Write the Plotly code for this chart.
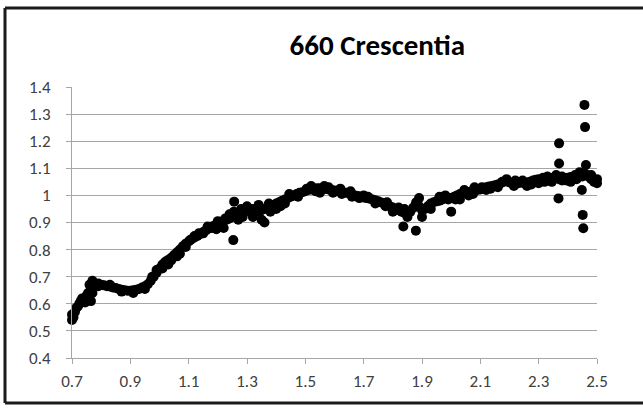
import plotly.graph_objects as go

# reflectance spectrum, main run
wavelength = [
    0.70, 0.71, 0.72, 0.73, 0.74, 0.75, 0.76, 0.77, 0.78, 0.79,
    0.80, 0.81, 0.82, 0.83, 0.84, 0.85, 0.86, 0.87, 0.88, 0.89,
    0.90, 0.91, 0.92, 0.93, 0.94, 0.95, 0.96, 0.97, 0.98, 0.99,
    1.00, 1.01, 1.02, 1.03, 1.04, 1.05, 1.06, 1.07, 1.08, 1.09,
    1.10, 1.11, 1.12, 1.13, 1.14, 1.15, 1.16, 1.17, 1.18, 1.19,
    1.20, 1.21, 1.22, 1.23, 1.24, 1.25, 1.26, 1.27, 1.28, 1.29,
    1.30, 1.31, 1.32, 1.33, 1.34, 1.35, 1.36, 1.37, 1.38, 1.39,
    1.40, 1.41, 1.42, 1.43, 1.44, 1.45, 1.46, 1.47, 1.48, 1.49,
    1.50, 1.51, 1.52, 1.53, 1.54, 1.55, 1.56, 1.57, 1.58, 1.59,
    1.60, 1.61, 1.62, 1.63, 1.64, 1.65, 1.66, 1.67, 1.68, 1.69,
    1.70, 1.71, 1.72, 1.73, 1.74, 1.75, 1.76, 1.77, 1.78, 1.79,
    1.80, 1.81, 1.82, 1.83, 1.84, 1.85, 1.86, 1.87, 1.88, 1.89,
    1.90, 1.91, 1.92, 1.93, 1.94, 1.95, 1.96, 1.97, 1.98, 1.99,
    2.00, 2.01, 2.02, 2.03, 2.04, 2.05, 2.06, 2.07, 2.08, 2.09,
    2.10, 2.11, 2.12, 2.13, 2.14, 2.15, 2.16, 2.17, 2.18, 2.19,
    2.20, 2.21, 2.22, 2.23, 2.24, 2.25, 2.26, 2.27, 2.28, 2.29,
    2.30, 2.31, 2.32, 2.33, 2.34, 2.35, 2.36, 2.37, 2.38, 2.39,
    2.40, 2.41, 2.42, 2.43, 2.44, 2.45, 2.46, 2.47, 2.48, 2.49,
    2.50,
]
reflectance = [
    0.540, 0.570, 0.590, 0.610, 0.620, 0.630, 0.670, 0.640, 0.670, 0.665,
    0.670, 0.668, 0.665, 0.664, 0.660, 0.658, 0.655, 0.652, 0.650, 0.648,
    0.648, 0.650, 0.652, 0.655, 0.660, 0.665, 0.672, 0.685, 0.700, 0.715,
    0.730, 0.745, 0.755, 0.762, 0.770, 0.780, 0.790, 0.800, 0.812, 0.822,
    0.830, 0.838, 0.845, 0.850, 0.858, 0.865, 0.872, 0.878, 0.885, 0.890,
    0.895, 0.900, 0.905, 0.910, 0.915, 0.920, 0.925, 0.930, 0.935, 0.940,
    0.945, 0.948, 0.950, 0.945, 0.940, 0.945, 0.950, 0.955, 0.960, 0.965,
    0.970, 0.975, 0.980, 0.985, 0.990, 0.995, 1.000, 1.005, 1.010, 1.012,
    1.015, 1.020, 1.022, 1.025, 1.026, 1.026, 1.025, 1.024, 1.022, 1.020,
    1.018, 1.016, 1.014, 1.012, 1.010, 1.007, 1.004, 1.000, 0.998, 0.995,
    0.992, 0.990, 0.988, 0.985, 0.982, 0.978, 0.974, 0.970, 0.965, 0.960,
    0.955, 0.950, 0.945, 0.940, 0.935, 0.930, 0.940, 0.955, 0.975, 0.960,
    0.945, 0.950, 0.960, 0.970, 0.975, 0.978, 0.980, 0.985, 0.990, 0.985,
    0.990, 0.995, 1.000, 1.005, 1.008, 1.010, 1.012, 1.015, 1.018, 1.020,
    1.022, 1.025, 1.030, 1.033, 1.035, 1.037, 1.040, 1.045, 1.050, 1.052,
    1.048, 1.045, 1.043, 1.045, 1.048, 1.045, 1.048, 1.050, 1.055, 1.058,
    1.060, 1.055, 1.050, 1.055, 1.060, 1.065, 1.068, 1.060, 1.055, 1.060,
    1.065, 1.068, 1.065, 1.070, 1.075, 1.070, 1.080, 1.070, 1.060, 1.050,
    1.060,
]

# second pass / scatter around the main run
wl_scatter = [
    0.700, 0.705, 0.715, 0.725, 0.735, 0.745, 0.755, 0.765, 0.770, 0.790,
    0.830, 0.870, 0.910, 0.950, 0.975, 0.990, 1.010, 1.040, 1.060, 1.090,
    1.120, 1.150, 1.180, 1.200, 1.220, 1.240, 1.270, 1.280, 1.300, 1.320,
    1.340, 1.350, 1.360, 1.380, 1.400, 1.430, 1.520, 1.550, 1.580, 1.620,
    1.660, 1.700, 1.740, 1.780, 1.800, 1.820, 1.840, 1.850, 1.890, 1.900,
    1.930, 1.960, 1.980, 2.000, 2.030, 2.060, 2.080, 2.120, 2.160, 2.190,
    2.220, 2.260, 2.300, 2.330, 2.360, 2.380, 2.410, 2.430, 2.440, 2.480,
    2.500,
    1.030, 1.070, 1.105, 1.135, 1.165, 1.195, 1.225, 1.255, 1.285, 1.315,
    1.375, 1.415, 1.445, 1.475, 1.505, 1.535, 1.565, 1.595, 1.625, 1.655,
    1.685, 1.715, 1.745, 1.775, 2.015, 2.045, 2.075, 2.105, 2.135, 2.175,
    2.215, 2.245, 2.275, 2.315, 2.345, 2.395, 2.425,
]
refl_scatter = [
    0.560, 0.550, 0.585, 0.600, 0.620, 0.605, 0.640, 0.610, 0.685, 0.675,
    0.670, 0.645, 0.640, 0.655, 0.700, 0.725, 0.730, 0.760, 0.775, 0.810,
    0.850, 0.860, 0.880, 0.905, 0.880, 0.930, 0.910, 0.950, 0.960, 0.920,
    0.965, 0.910, 0.900, 0.940, 0.950, 0.970, 1.035, 1.010, 1.030, 1.025,
    0.995, 1.000, 0.970, 0.975, 0.940, 0.955, 0.950, 0.920, 0.990, 0.920,
    0.950, 0.995, 1.000, 0.940, 0.985, 1.000, 1.030, 1.020, 1.030, 1.060,
    1.055, 1.035, 1.045, 1.070, 1.075, 1.070, 1.050, 1.060, 1.085, 1.075,
    1.045,
    0.745, 0.785, 0.835, 0.860, 0.885, 0.875, 0.915, 0.940, 0.920, 0.935,
    0.970, 0.960, 1.005, 0.995, 1.025, 1.015, 1.035, 1.010, 1.005, 1.015,
    0.990, 0.995, 0.975, 0.960, 0.985, 1.020, 1.005, 1.030, 1.025, 1.050,
    1.035, 1.055, 1.040, 1.065, 1.050, 1.055, 1.075,
]

# isolated noisy points
wl_outlier = [1.256, 1.253, 1.836, 1.879, 2.370, 2.370, 2.368,
              2.457, 2.459, 2.451, 2.453, 2.448, 2.462]
refl_outlier = [0.977, 0.835, 0.885, 0.870, 1.192, 1.118, 0.989,
                1.334, 1.252, 0.928, 0.879, 1.020, 1.112]

x_ticks = [0.7, 0.9, 1.1, 1.3, 1.5, 1.7, 1.9, 2.1, 2.3, 2.5]
y_ticks = [0.4, 0.5, 0.6, 0.7, 0.8, 0.9, 1.0, 1.1, 1.2, 1.3, 1.4]
y_labels = ["0.4", "0.5", "0.6", "0.7", "0.8", "0.9", "1", "1.1", "1.2", "1.3", "1.4"]

FONT = "Carlito, Calibri, Lato, sans-serif"
GRID = "#a6a6a6"

fig = go.Figure()
for xs, ys in [(wavelength, reflectance), (wl_scatter, refl_scatter), (wl_outlier, refl_outlier)]:
    fig.add_trace(go.Scatter(
        x=xs, y=ys, mode="markers",
        marker=dict(color="black", size=10, line=dict(width=0)),
        showlegend=False, cliponaxis=False,
    ))

# Excel-style chart border (right edge is cut off in the source image)
W, H = 643, 409
L, R, T, B = 72, 46, 87, 51
pw, ph = W - L - R, H - T - B


def px(x):
    return (x - L) / pw


def py(y):
    return 1 - (y - T) / ph


border = dict(color="#1a1a1a", width=3)
fig.add_shape(type="line", xref="paper", yref="paper",
              x0=px(5), x1=px(643), y0=py(8), y1=py(8), line=border)
fig.add_shape(type="line", xref="paper", yref="paper",
              x0=px(5), x1=px(643), y0=py(403), y1=py(403), line=border)
fig.add_shape(type="line", xref="paper", yref="paper",
              x0=px(5), x1=px(5), y0=py(8), y1=py(403), line=border)
# keep the right edge open like the cropped source
fig.add_shape(type="rect", xref="paper", yref="paper", layer="above",
              x0=px(634), x1=px(645), y0=py(11), y1=py(400),
              fillcolor="white", line=dict(width=0))

fig.update_layout(
    width=W, height=H,
    margin=dict(l=L, r=R, t=T, b=B),
    paper_bgcolor="white", plot_bgcolor="white",
    title=dict(text="<b>660 Crescentia</b>", x=px(380), xanchor="center",
               y=1 - 45 / H, yanchor="middle",
               font=dict(family=FONT, size=29, color="black")),
    xaxis=dict(range=[0.7, 2.5], tickvals=x_ticks, ticktext=[str(v) for v in x_ticks],
               showgrid=False, zeroline=False, showline=True, linecolor=GRID, linewidth=1,
               ticks="outside", ticklen=5, tickcolor=GRID, ticklabelstandoff=3,
               tickfont=dict(family=FONT, size=17, color="#404040")),
    yaxis=dict(range=[0.4, 1.4], tickvals=y_ticks, ticktext=y_labels,
               showgrid=True, gridcolor=GRID, gridwidth=1, zeroline=False,
               showline=True, linecolor=GRID, linewidth=1,
               ticks="outside", ticklen=5, tickcolor=GRID, ticklabelstandoff=12,
               tickfont=dict(family=FONT, size=17, color="#404040")),
)

fig.write_html("out.html", config={"displayModeBar": False},
               post_script="document.body.style.margin='0';document.body.style.overflow='hidden';")
